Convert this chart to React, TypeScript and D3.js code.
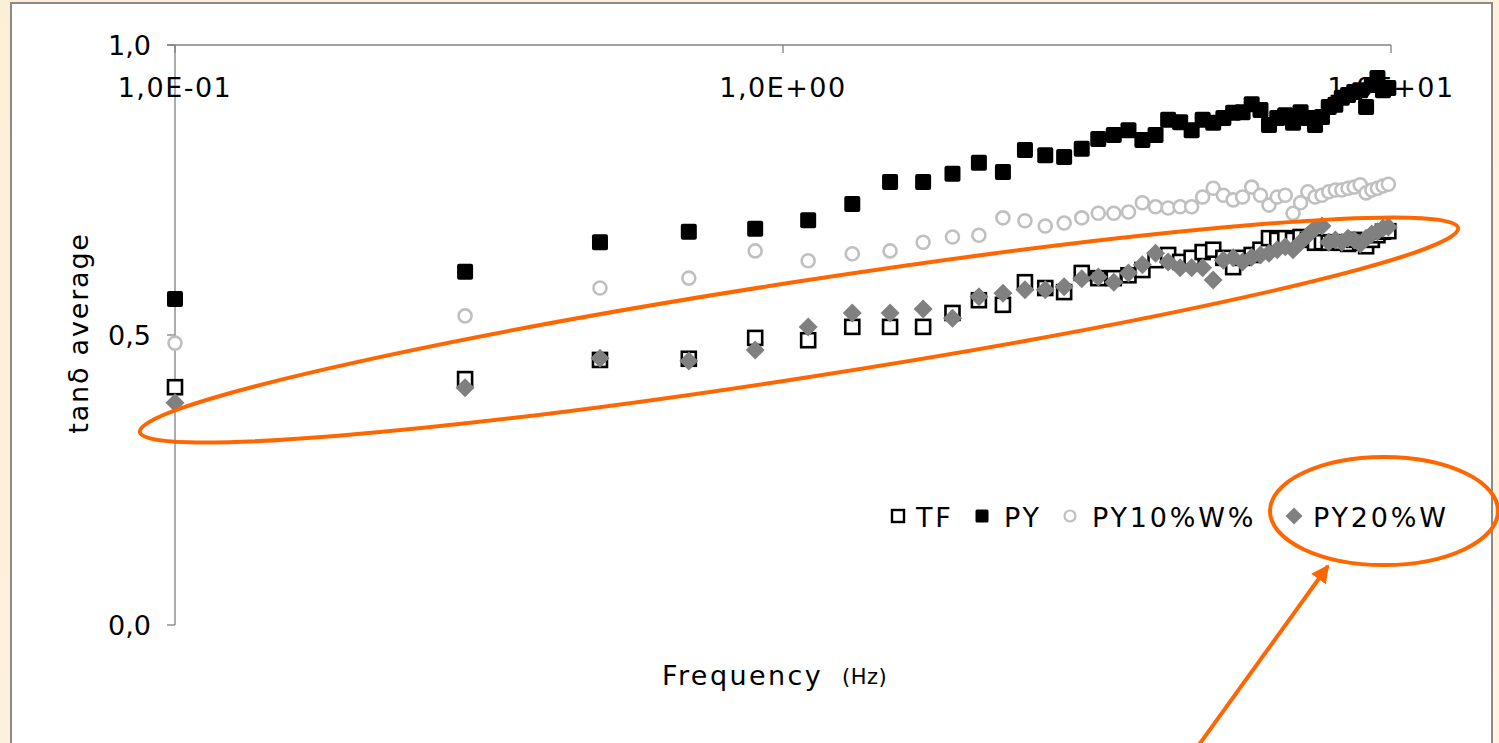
import React from "react";
import * as d3 from "d3";

const FREQ = [0.1, 0.3, 0.5, 0.7, 0.9, 1.1, 1.3, 1.5, 1.7, 1.9, 2.1, 2.3, 2.5, 2.7, 2.9, 3.1, 3.3, 3.5, 3.7, 3.9, 4.1, 4.3, 4.5, 4.7, 4.9, 5.1, 5.3, 5.5, 5.7, 5.9, 6.1, 6.3, 6.5, 6.7, 6.9, 7.1, 7.3, 7.5, 7.7, 7.9, 8.1, 8.3, 8.5, 8.7, 8.9, 9.1, 9.3, 9.5, 9.7, 9.9];

const TF = [0.410, 0.424, 0.457, 0.459, 0.495, 0.491, 0.514, 0.514, 0.514, 0.538, 0.560, 0.552, 0.591, 0.581, 0.574, 0.607, 0.598,
  0.598, 0.603, 0.612, 0.629, 0.638, 0.626, 0.633, 0.643, 0.647, 0.633, 0.617, 0.633, 0.638, 0.647, 0.667, 0.664, 0.667, 0.664, 0.669, 0.664, 0.659, 0.660, 0.659, 0.660, 0.659, 0.657, 0.664, 0.659, 0.653, 0.664, 0.672, 0.678, 0.679];

const PY = [0.562, 0.609, 0.660, 0.678, 0.683, 0.698, 0.726, 0.764, 0.764, 0.778, 0.797, 0.781, 0.819, 0.810, 0.807, 0.821, 0.838,
  0.845, 0.853, 0.836, 0.845, 0.871, 0.867, 0.853, 0.871, 0.866, 0.874, 0.883, 0.884, 0.898, 0.888, 0.862, 0.874, 0.879, 0.866, 0.884, 0.874, 0.862, 0.876, 0.893, 0.897, 0.909, 0.914, 0.919, 0.922, 0.893, 0.931, 0.943, 0.922, 0.926];

const PY10 = [0.486, 0.533, 0.581, 0.598, 0.645, 0.628, 0.640, 0.645, 0.660, 0.669, 0.672, 0.702, 0.697, 0.688, 0.693, 0.702, 0.710,
  0.710, 0.712, 0.728, 0.721, 0.719, 0.721, 0.721, 0.738, 0.753, 0.741, 0.733, 0.738, 0.755, 0.741, 0.724, 0.738, 0.741, 0.710, 0.728, 0.747, 0.738, 0.741, 0.747, 0.750, 0.750, 0.753, 0.755, 0.759, 0.745, 0.750, 0.753, 0.757, 0.760];

const PY20 = [0.383, 0.409, 0.460, 0.455, 0.474, 0.514, 0.538, 0.538, 0.545, 0.529, 0.566, 0.572, 0.578, 0.578, 0.583, 0.597, 0.600,
  0.591, 0.607, 0.621, 0.641, 0.626, 0.616, 0.616, 0.616, 0.595, 0.629, 0.633, 0.626, 0.634, 0.638, 0.641, 0.647, 0.652, 0.647, 0.660, 0.672, 0.684, 0.688, 0.660, 0.664, 0.660, 0.667, 0.664, 0.657, 0.667, 0.674, 0.678, 0.684, 0.686];

const X_TICKS = [0.1, 1, 10];
const X_TICK_LABELS = ["1,0E-01", "1,0E+00", "1,0E+01"];
const Y_TICKS = [0, 0.5, 1.0];
const Y_TICK_LABELS = ["0,0", "0,5", "1,0"];
const LEGEND = ["TF", "PY", "PY10%W%", "PY20%W"];

const W = 1499;
const H = 743;
const FONT = "'DejaVu Sans', Verdana, sans-serif";
const ORANGE = "#ff6600";
const AXIS = "#808080";

export default function App() {
  const x = d3.scaleLog().domain([0.1, 10]).range([175, 1391]);
  const y = d3.scaleLinear().domain([0, 1]).range([625, 45]);

  const diamond = (cx: number, cy: number, r: number) =>
    `M${cx},${cy - r}L${cx + r},${cy}L${cx},${cy + r}L${cx - r},${cy}Z`;

  const legendX = [898, 982, 1070, 1294];
  const legendTextX = [916, 1004, 1092, 1313];
  const ly = 516;

  return (
    <div style={{ position: "fixed", left: 0, top: 0, width: W, height: H }}>
      <svg width={W} height={H} style={{ display: "block" }}>
        <defs>
          <linearGradient id="bg" x1="0" y1="0" x2="1" y2="1">
            <stop offset="0" stopColor="#fcefd8" />
            <stop offset="1" stopColor="#fdf3e2" />
          </linearGradient>
          <marker id="arrowHead" viewBox="0 0 10 10" refX="9" refY="5" markerWidth="4.5" markerHeight="4.5" orient="auto" markerUnits="strokeWidth">
            <path d="M0,0L10,5L0,10Z" fill={ORANGE} />
          </marker>
        </defs>
        <rect x={0} y={0} width={W} height={H} fill="url(#bg)" />
        <rect x={11} y={3} width={1481} height={H + 20} fill="#ffffff" stroke="#8a8a8a" strokeWidth={2} />

        {/* axes */}
        <line x1={175} x2={175} y1={y(0)} y2={y(1)} stroke={AXIS} strokeWidth={1.3} />
        <line x1={167} x2={x(10)} y1={y(1)} y2={y(1)} stroke={AXIS} strokeWidth={1.3} />
        {Y_TICKS.map((t, i) => (
          <g key={"yt" + i}>
            <line x1={167} x2={175} y1={y(t)} y2={y(t)} stroke={AXIS} strokeWidth={1.3} />
            <text x={151} y={y(t) + 10} textAnchor="end" fontFamily={FONT} fontSize={27} fill="#000">{Y_TICK_LABELS[i]}</text>
          </g>
        ))}
        {X_TICKS.map((t, i) => (
          <g key={"xt" + i}>
            <line x1={x(t)} x2={x(t)} y1={y(1)} y2={y(1) + 8} stroke={AXIS} strokeWidth={1.3} />
            <text x={x(t)} y={97} textAnchor="middle" fontFamily={FONT} fontSize={27} letterSpacing={1.5} fill="#000">{X_TICK_LABELS[i]}</text>
          </g>
        ))}

        {/* axis titles */}
        <text transform={`translate(88,333) rotate(-90)`} textAnchor="middle" fontFamily={FONT} fontSize={27} letterSpacing={1.8} fill="#000">tanδ average</text>
        <text x={662} y={685} fontFamily={FONT} fontSize={27} letterSpacing={2.4} fill="#000">Frequency</text>
        <text x={842} y={684} fontFamily={FONT} fontSize={21} letterSpacing={0.5} fill="#000">(Hz)</text>

        {/* TF */}
        {FREQ.map((f, i) => (
          <rect key={"tf" + i} x={x(f) - 7} y={y(TF[i]) - 7} width={14} height={14} fill="#fff" stroke="#000" strokeWidth={2.6} />
        ))}
        {/* PY */}
        {FREQ.map((f, i) => (
          <rect key={"py" + i} x={x(f) - 8} y={y(PY[i]) - 8} width={16} height={16} rx={2} fill="#000" />
        ))}
        {/* PY10 */}
        {FREQ.map((f, i) => (
          <circle key={"p10" + i} cx={x(f)} cy={y(PY10[i])} r={6.5} fill="#fff" stroke="#c0c0c0" strokeWidth={2.6} />
        ))}
        {/* PY20 */}
        {FREQ.map((f, i) => (
          <path key={"p20" + i} d={diamond(x(f), y(PY20[i]), 9.5)} fill="#808080" />
        ))}

        {/* legend */}
        <rect x={legendX[0] - 6} y={ly - 6} width={12} height={12} fill="#fff" stroke="#000" strokeWidth={2.4} />
        <rect x={legendX[1] - 6.5} y={ly - 6.5} width={13} height={13} rx={1.5} fill="#000" />
        <circle cx={legendX[2]} cy={ly} r={5.5} fill="#fff" stroke="#c0c0c0" strokeWidth={2.2} />
        <path d={diamond(legendX[3], ly, 8.5)} fill="#808080" />
        {LEGEND.map((l, i) => (
          <text key={"lg" + i} x={legendTextX[i]} y={ly + 11} fontFamily={FONT} fontSize={27} letterSpacing={2.8} fill="#000">{l}</text>
        ))}

        {/* annotations */}
        <ellipse cx={799} cy={330} rx={667} ry={48} transform="rotate(-8.8 799 330)" fill="none" stroke={ORANGE} strokeWidth={4} />
        <ellipse cx={1384} cy={511} rx={114} ry={54} fill="none" stroke={ORANGE} strokeWidth={4} />
        <line x1={1188} y1={760} x2={1328} y2={566} stroke={ORANGE} strokeWidth={4} markerEnd="url(#arrowHead)" />
      </svg>
    </div>
  );
}
